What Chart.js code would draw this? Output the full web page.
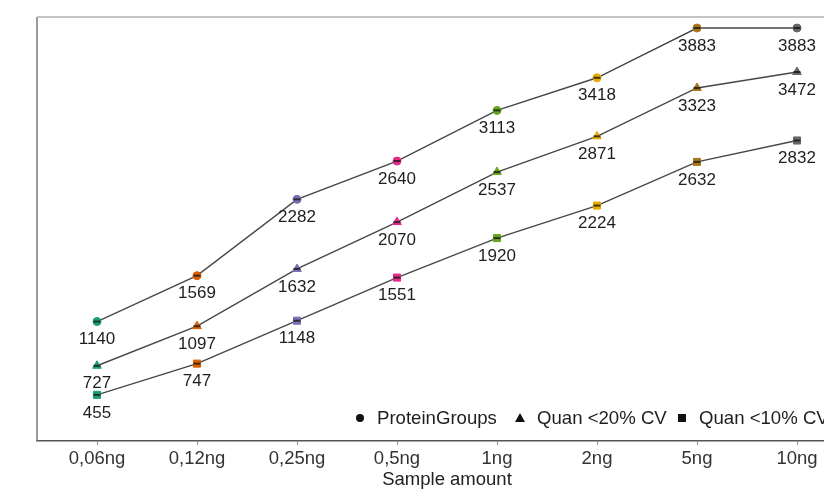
<!DOCTYPE html>
<html>
<head>
<meta charset="utf-8">
<script src="https://cdn.jsdelivr.net/npm/chart.js@4/dist/chart.umd.min.js"></script>
<style>
  html, body { margin: 0; padding: 0; overflow: hidden; background: #fff; }
  #wrap { width: 900px; height: 493px; }
</style>
</head>
<body>
<div id="wrap"><canvas id="c" width="900" height="493"></canvas></div>
<script>
// values
const amounts = ['0,06ng', '0,12ng', '0,25ng', '0,5ng', '1ng', '2ng', '5ng', '10ng'];
const proteinGroups = [1140, 1569, 2282, 2640, 3113, 3418, 3883, 3883];
const quan20 = [727, 1097, 1632, 2070, 2537, 2871, 3323, 3472];
const quan10 = [455, 747, 1148, 1551, 1920, 2224, 2632, 2832];
const seriesNames = ['ProteinGroups', 'Quan <20% CV', 'Quan <10% CV'];
const seriesShapes = ['circle', 'triangle', 'rect'];
const amountColors = ['#1B9E77', '#D95F02', '#7570B3', '#E7298A', '#66A61E', '#E6AB02', '#A6761D', '#666666'];

const FONT = '"Liberation Sans", Arial, sans-serif';

const toPoints = values => values.map((v, i) => ({ x: i, y: v }));

const seriesValues = [proteinGroups, quan20, quan10];
const radii = [4, 5, 5];

const datasets = [];
seriesValues.forEach((values, s) => {
	datasets.push({
		label: seriesNames[s],
		order: 2,
		data: toPoints(values),
		borderColor: '#474747',
		borderWidth: 1.4,
		pointStyle: seriesShapes[s],
		pointRadius: radii[s],
		pointBackgroundColor: amountColors,
		pointBorderColor: amountColors,
		pointBorderWidth: 1,
		tension: 0
	});
	// dark stroke across each marker
	datasets.push({
		label: '',
		overlay: true,
		order: 1,
		data: toPoints(values),
		showLine: false,
		pointStyle: 'line',
		pointRadius: 3.5,
		pointBorderColor: 'rgba(25,25,25,0.8)',
		pointBorderWidth: 2
	});
});

const decorPlugin = {
	id: 'decor',
	afterDatasetsDraw(chart) {
		const { ctx, chartArea } = chart;
		ctx.save();

		// panel border, left and top
		ctx.lineWidth = 1.5;
		ctx.strokeStyle = '#7a7a7a';
		ctx.beginPath();
		ctx.moveTo(chartArea.left, chartArea.bottom);
		ctx.lineTo(chartArea.left, chartArea.top);
		ctx.stroke();
		ctx.strokeStyle = '#b0b0b0';
		ctx.beginPath();
		ctx.moveTo(chartArea.left, chartArea.top);
		ctx.lineTo(chartArea.right, chartArea.top);
		ctx.stroke();

		// value labels under points
		ctx.font = '17px ' + FONT;
		ctx.fillStyle = '#1e1e1e';
		ctx.textAlign = 'center';
		ctx.textBaseline = 'middle';
		chart.data.datasets.forEach((ds, di) => {
			if (ds.overlay) return;
			chart.getDatasetMeta(di).data.forEach((pt, i) => {
				ctx.fillText(String(ds.data[i].y), pt.x, pt.y + 18);
			});
		});

		// legend inside the panel
		const legY = 418;
		const legX = [360, 520, 682];
		ctx.font = '18.6px ' + FONT;
		ctx.textAlign = 'left';
		seriesNames.forEach((name, s) => {
			const x = legX[s];
			ctx.fillStyle = '#111';
			ctx.beginPath();
			if (seriesShapes[s] === 'circle') {
				ctx.arc(x, legY, 4, 0, Math.PI * 2);
			} else if (seriesShapes[s] === 'triangle') {
				ctx.moveTo(x, legY - 5);
				ctx.lineTo(x + 5, legY + 4);
				ctx.lineTo(x - 5, legY + 4);
				ctx.closePath();
			} else {
				ctx.rect(x - 4, legY - 4, 8, 8);
			}
			ctx.fill();
			ctx.fillStyle = '#1e1e1e';
			ctx.fillText(name, x + 17, legY + 1);
		});
		ctx.restore();
	}
};

new Chart(document.getElementById('c'), {
	type: 'line',
	data: { datasets },
	options: {
		responsive: false,
		devicePixelRatio: 1,
		animation: false,
		layout: { padding: { left: 37, top: 17, right: 43, bottom: 0 } },
		plugins: { legend: { display: false }, tooltip: { enabled: false } },
		scales: {
			x: {
				type: 'linear',
				min: -0.6,
				max: 7.6,
				afterBuildTicks: scale => {
					scale.ticks = amounts.map((a, i) => ({ value: i }));
				},
				afterFit: scale => { scale.height = 52; },
				ticks: {
					autoSkip: false,
					maxRotation: 0,
					padding: 3,
					color: '#333',
					font: { family: FONT, size: 18.5 },
					callback: value => amounts[value]
				},
				grid: {
					drawOnChartArea: false,
					drawTicks: true,
					tickLength: 4,
					color: '#888'
				},
				border: { display: true, color: '#555', width: 1.5 },
				title: {
					display: true,
					text: 'Sample amount',
					color: '#222',
					font: { family: FONT, size: 18.5 },
					padding: { top: 0, bottom: 1.5 }
				}
			},
			y: {
				display: false,
				min: 24,
				max: 3986
			}
		}
	},
	plugins: [decorPlugin]
});
</script>
</body>
</html>
